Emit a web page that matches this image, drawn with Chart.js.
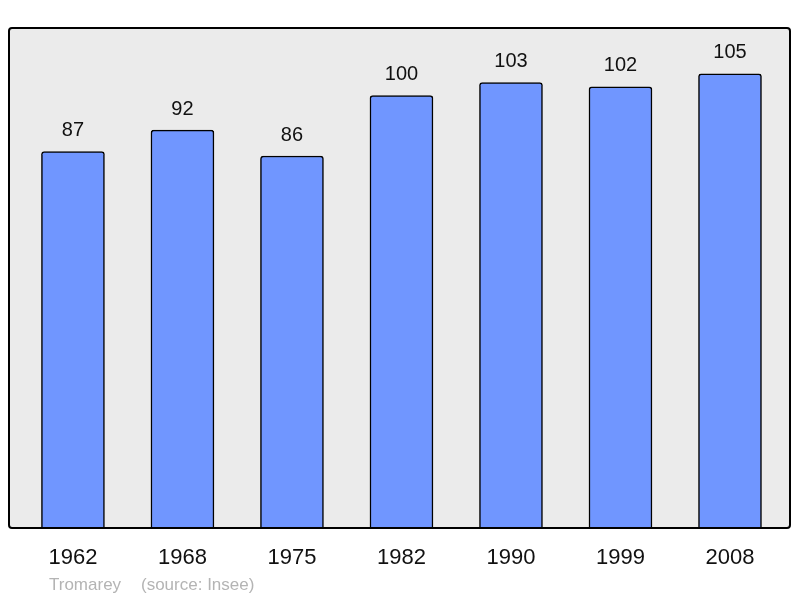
<!DOCTYPE html>
<html><head><meta charset="utf-8">
<script src="https://cdn.jsdelivr.net/npm/chart.js@4"></script>
<style>html,body{margin:0;padding:0;background:#fff}#wrap{width:800px;height:598px}</style>
</head><body><div id="wrap"><canvas id="c" width="800" height="598"></canvas></div>
<script>
const years = ['1962','1968','1975','1982','1990','1999','2008'];
const population = [87, 92, 86, 100, 103, 102, 105];
const footerName = 'Tromarey';
const footerSource = '(source: Insee)';

const points = population.map((v, i) => ({x: i, y: v}));

const framePlugin = {
  id: 'frame',
  beforeDraw(chart) {
    const {ctx, chartArea: a} = chart;
    ctx.save();
    ctx.fillStyle = '#ebebeb';
    ctx.beginPath();
    ctx.roundRect(a.left, a.top, a.right - a.left, a.bottom - a.top, 3);
    ctx.fill();
    ctx.restore();
  },
  afterDatasetsDraw(chart) {
    const {ctx, chartArea: a} = chart;
    ctx.save();
    ctx.strokeStyle = '#000';
    ctx.lineWidth = 2;
    ctx.beginPath();
    ctx.roundRect(a.left, a.top, a.right - a.left, a.bottom - a.top, 3);
    ctx.stroke();
    const meta = chart.getDatasetMeta(0);
    ctx.fillStyle = '#111';
    ctx.font = '20px "Liberation Sans", Arial, sans-serif';
    ctx.textAlign = 'center';
    ctx.textBaseline = 'middle';
    meta.data.forEach((el, i) => {
      ctx.fillText(String(population[i]), el.x, el.y - 21);
    });
    ctx.fillStyle = '#b4b4b4';
    ctx.font = '17px "Liberation Sans", Arial, sans-serif';
    ctx.textAlign = 'left';
    ctx.fillText(footerName, 49, 585);
    ctx.fillText(footerSource, 141, 585);
    ctx.restore();
  }
};

new Chart(document.getElementById('c'), {
  type: 'bar',
  data: {
    datasets: [{
      data: points,
      backgroundColor: '#7096ff',
      borderColor: '#000',
      borderWidth: 1.5,
      borderRadius: 3,
      borderSkipped: 'bottom',
      barThickness: 63
    }]
  },
  options: {
    responsive: false,
    animation: false,
    layout: {padding: {left: 9, right: 10, top: 28, bottom: 0}},
    plugins: {legend: {display: false}, tooltip: {enabled: false}},
    scales: {
      x: {
        type: 'linear',
        offset: false,
        min: -0.584,
        max: 6.548,
        grid: {display: false, drawTicks: false, offset: false},
        border: {display: false},
        afterBuildTicks(scale) { scale.ticks = years.map((_, i) => ({value: i})); },
        afterFit(scale) { scale.height = 70; },
        ticks: {
          autoSkip: false,
          maxRotation: 0,
          padding: 17,
          color: '#111',
          font: {family: '"Liberation Sans", Arial, sans-serif', size: 22},
          callback: (v) => years[v] ?? ''
        }
      },
      y: {
        display: false,
        min: 0,
        max: 115.6
      }
    }
  },
  plugins: [framePlugin]
});
</script>
</body></html>
